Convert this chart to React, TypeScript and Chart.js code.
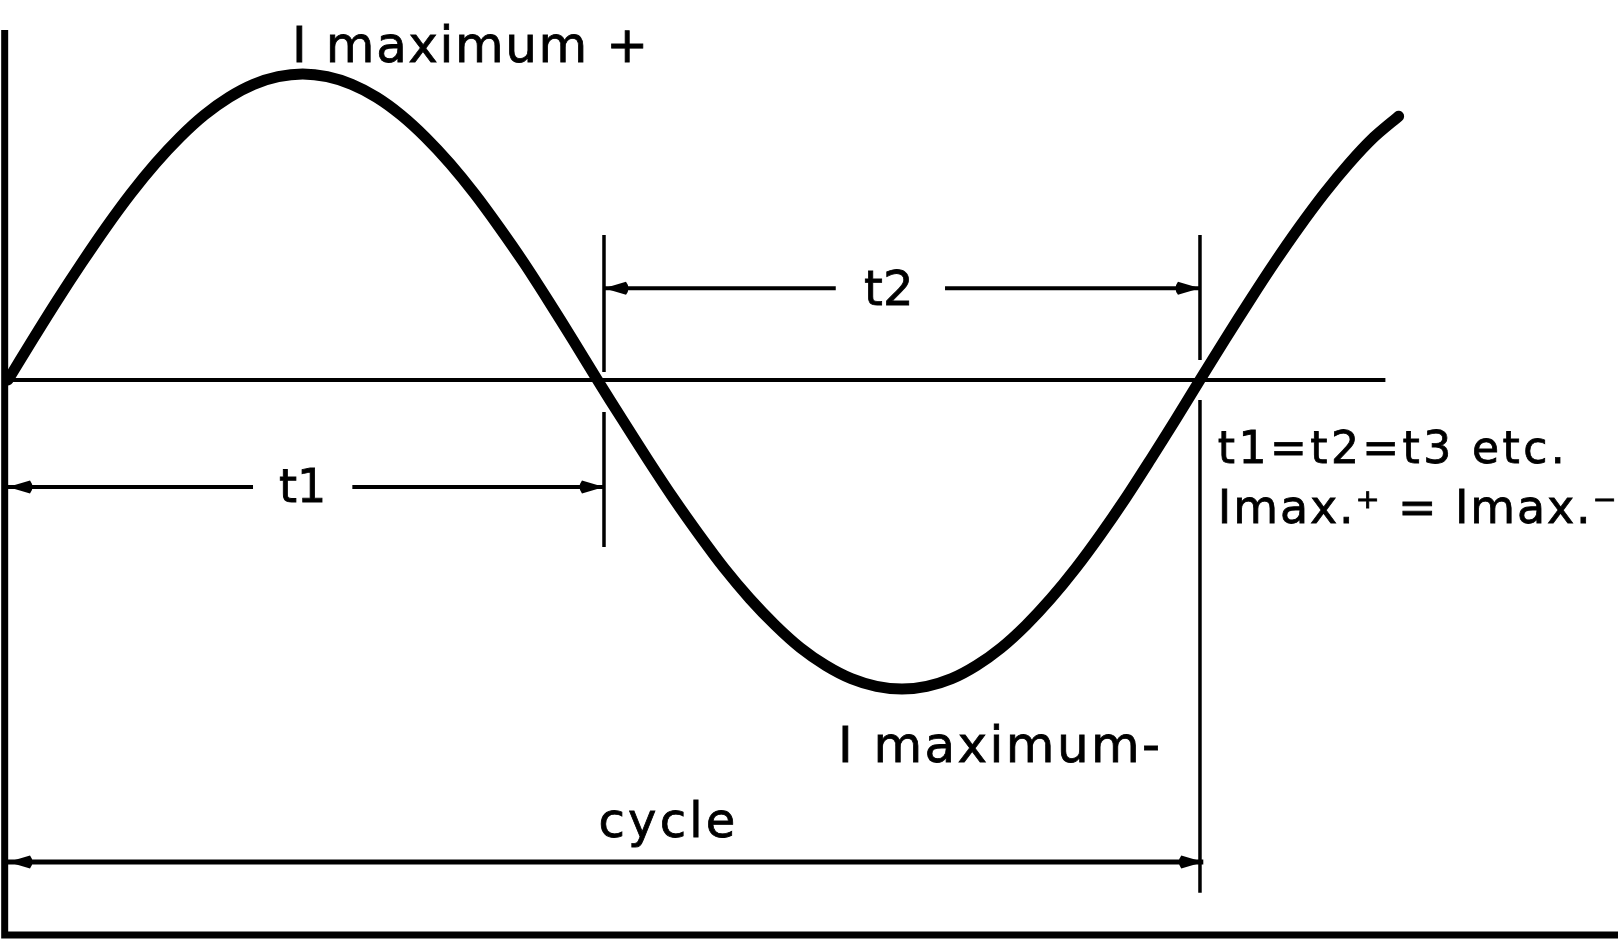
import { useEffect, useRef } from "react";
import { Chart, registerables } from "chart.js";

Chart.register(...registerables);

// ---- Data ----
// Phase of the alternating current, in degrees
const phaseDeg = [
  0, 7.4, 14.8, 22.3, 29.7, 37.1, 44.5, 51.9, 59.3, 66.8, 74.2, 81.6, 89, 96.4, 103.8, 111.3, 118.7, 126.1, 133.5, 140.9, 148.3, 155.8, 163.2, 170.6,
  178, 185.7, 193.3, 201, 208.7, 216.3, 224, 231.7, 239.3, 247, 254.7, 262.3, 270, 277.5, 285, 292.5, 300, 307.5, 315, 322.5, 330, 337.5, 345, 352.5,
  360, 367.5, 375, 382.5, 390, 397.5, 405, 412.5, 420,
];
// Instantaneous current, relative to I maximum
const currentValues = [
  0, 0.131, 0.259, 0.383, 0.5, 0.609, 0.707, 0.793, 0.866, 0.924, 0.966, 0.991, 1.0, 0.991, 0.966, 0.924, 0.866, 0.793, 0.707, 0.609, 0.5, 0.383, 0.259, 0.131,
  0, -0.132, -0.261, -0.387, -0.505, -0.615, -0.714, -0.801, -0.875, -0.933, -0.976, -1.001, -1.01, -1.001, -0.976, -0.933, -0.875, -0.801, -0.714, -0.615, -0.505, -0.387, -0.261, -0.132,
  0, 0.131, 0.259, 0.383, 0.5, 0.609, 0.707, 0.793, 0.862,
];

// Zero (time) axis
const zeroLineX = [0, 416];
const zeroLineY = [0, 0];

// Frame: vertical current axis and bottom line
const frameX = [-1, -1, 487];
const frameY = [1.144, -1.814, -1.814];

// Extension marks at the half-cycle and full-cycle points
const markerDeg = [180, 360];
const markerUpper = [[0.474, 0.026], [0.474, 0.065]];
const markerLower = [[-0.105, -0.546], [-0.065, -1.676]];

// Dimension arrows
const dimLabels = ["t1", "t2", "cycle"];
const dimFrom = [0, 180, 0];
const dimTo = [180, 360, 361];
const dimLevel = [-0.35, 0.3, -1.575];
const dimGapFrom = [74, 250, null];
const dimGapTo = [104, 283, null];

// Notes
const noteTexts = ["I maximum +", "I maximum-", "t1=t2=t3 etc.", "Imax.\u207A = Imax.\u207B"];

// ---- Layout / style (not data) ----
const X_MIN = -2.416;
const X_MAX = 486.25;
const Y_MIN = -1.8497;
const Y_MAX = 1.2418;
const FONT = '"DejaVu Sans", "Noto Sans", sans-serif';

const noteLayout = [
  { x: 85.8, y: 1.039, size: 50, width: 356 },
  { x: 250.7, y: -1.248, size: 50, width: 322 },
  { x: 365.4, y: -0.271, size: 44, width: 347 },
  { x: 365.4, y: -0.467, size: 46, width: 399 },
];
const dimLabelLayout = [
  { x: 89, y: -0.399, size: 46, width: 0 },
  { x: 266, y: 0.245, size: 48, width: 0 },
  { x: 199, y: -1.493, size: 48, width: 137 },
];

function pts(xs: number[], ys: number[]) {
  return xs.map((x, i) => ({ x, y: ys[i] }));
}

function lineSet(data: { x: number; y: number }[], width: number, extra: any = {}) {
  return {
    data,
    borderColor: "#000",
    borderWidth: width,
    pointRadius: 0,
    pointHoverRadius: 0,
    fill: false,
    tension: 0,
    ...extra,
  };
}

function drawText(ctx: CanvasRenderingContext2D, text: string, px: number, py: number, size: number, width: number, centered: boolean) {
  ctx.save();
  ctx.font = `${size}px ${FONT}`;
  ctx.fillStyle = "#000";
  ctx.strokeStyle = "#000";
  ctx.lineWidth = 0.8;
  ctx.textBaseline = "alphabetic";
  ctx.textAlign = "left";
  (ctx as any).letterSpacing = "0px";
  const natural = ctx.measureText(text).width;
  let spacing = 0;
  let total = natural;
  if (width > 0) {
    const n = Array.from(text).length;
    spacing = n > 1 ? (width - natural) / (n - 1) : 0;
    total = width;
  }
  (ctx as any).letterSpacing = `${spacing}px`;
  const left = centered ? px - total / 2 : px;
  ctx.fillText(text, left, py);
  ctx.strokeText(text, left, py);
  ctx.restore();
}

function drawHead(ctx: CanvasRenderingContext2D, tipX: number, tipY: number, dir: number) {
  const L = 22;
  const W = 6.5;
  ctx.beginPath();
  ctx.moveTo(tipX, tipY);
  ctx.lineTo(tipX + dir * L, tipY - W);
  ctx.quadraticCurveTo(tipX + dir * (L + 5), tipY, tipX + dir * L, tipY + W);
  ctx.closePath();
  ctx.fill();
}

const annotatePlugin = {
  id: "annotate",
  beforeDraw(chart: any) {
    const { ctx, width, height } = chart;
    ctx.save();
    ctx.fillStyle = "#fff";
    ctx.fillRect(0, 0, width, height);
    ctx.restore();
  },
  afterDatasetsDraw(chart: any) {
    const { ctx } = chart;
    const xs = chart.scales.x;
    const ys = chart.scales.y;
    ctx.save();
    ctx.fillStyle = "#000";
    dimLabels.forEach((_, i) => {
      const py = ys.getPixelForValue(dimLevel[i]);
      drawHead(ctx, xs.getPixelForValue(dimFrom[i]), py, 1);
      drawHead(ctx, xs.getPixelForValue(dimTo[i]), py, -1);
    });
    ctx.restore();

    dimLabels.forEach((label, i) => {
      const l = dimLabelLayout[i];
      drawText(ctx, label, xs.getPixelForValue(l.x), ys.getPixelForValue(l.y), l.size, l.width, true);
    });
    noteTexts.forEach((t, i) => {
      const l = noteLayout[i];
      drawText(ctx, t, xs.getPixelForValue(l.x), ys.getPixelForValue(l.y), l.size, l.width, false);
    });
  },
};

export default function App() {
  const ref = useRef<HTMLCanvasElement>(null);

  useEffect(() => {
    if (!ref.current) return;
    const datasets: any[] = [];

    // frame
    datasets.push(lineSet(pts(frameX, frameY), 7, { borderJoinStyle: "miter" }));
    // zero line
    datasets.push(lineSet(pts(zeroLineX, zeroLineY), 4));
    // extension marks
    markerDeg.forEach((d, i) => {
      datasets.push(lineSet(pts([d, d], markerUpper[i]), 3.5));
      datasets.push(lineSet(pts([d, d], markerLower[i]), 3.5));
    });
    // dimension lines
    dimLabels.forEach((_, i) => {
      const w = i === 2 ? 5 : 4;
      const gf = dimGapFrom[i];
      const gt = dimGapTo[i];
      if (gf !== null && gt !== null) {
        datasets.push(lineSet(pts([dimFrom[i], gf], [dimLevel[i], dimLevel[i]]), w));
        datasets.push(lineSet(pts([gt, dimTo[i]], [dimLevel[i], dimLevel[i]]), w));
      } else {
        datasets.push(lineSet(pts([dimFrom[i], dimTo[i]], [dimLevel[i], dimLevel[i]]), w));
      }
    });
    // the sine wave
    datasets.push(
      lineSet(pts(phaseDeg, currentValues), 11, {
        tension: 0.3,
        borderCapStyle: "round",
        borderJoinStyle: "round",
      })
    );

    const chart = new Chart(ref.current, {
      type: "line",
      data: { datasets },
      options: {
        responsive: false,
        animation: false,
        devicePixelRatio: 1,
        events: [],
        layout: { padding: 0 },
        plugins: { legend: { display: false }, tooltip: { enabled: false }, title: { display: false } },
        scales: {
          x: { type: "linear", min: X_MIN, max: X_MAX, display: false },
          y: { type: "linear", min: Y_MIN, max: Y_MAX, display: false },
        },
      },
      plugins: [annotatePlugin],
    } as any);
    return () => chart.destroy();
  }, []);

  return (
    <div style={{ position: "fixed", left: 0, top: 0, width: 1618, height: 946, background: "#fff" }}>
      <canvas ref={ref} width={1618} height={946} style={{ display: "block", width: 1618, height: 946 }} />
    </div>
  );
}
